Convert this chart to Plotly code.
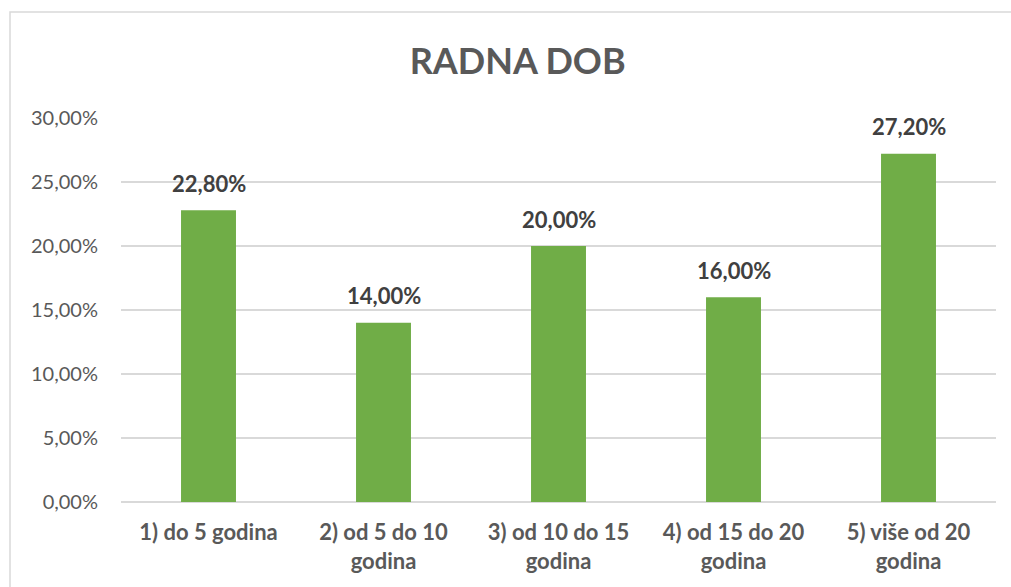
import plotly.graph_objects as go

categories = ["1) do 5 godina", "2) od 5 do 10<br>godina", "3) od 10 do 15<br>godina",
              "4) od 15 do 20<br>godina", "5) više od 20<br>godina"]
values = [0.228, 0.14, 0.20, 0.16, 0.272]
y_ticks = [0, 0.05, 0.10, 0.15, 0.20, 0.25, 0.30]

FONT = "Lato"

fig = go.Figure(go.Bar(
    x=categories, y=values,
    marker=dict(color="#70AD47", line=dict(width=0)),
    hoverinfo="skip",
))

annotations = [
    dict(x=c, y=v, xref="x", yref="y", text="<b>" + format(v * 100, ".2f").replace(".", ",") + "%</b>",
         showarrow=False, yanchor="middle", yshift=27,
         font=dict(family=FONT, size=22, color="#404040"))
    for c, v in zip(categories, values)
]

fig.update_layout(
    width=1011, height=587,
    separators=",.",
    paper_bgcolor="white", plot_bgcolor="white",
    margin=dict(l=121, r=15, t=118, b=85),
    bargap=0.686,
    showlegend=False,
    annotations=annotations,
    title=dict(text="<b>RADNA DOB</b>", x=0.512, xanchor="center", y=0.895, yanchor="middle",
               font=dict(family=FONT, size=36, color="#595959")),
    font=dict(family=FONT, color="#595959"),
    shapes=[dict(type="rect", xref="paper", yref="paper",
                 x0=-111/875, x1=1.2, y0=-0.5, y1=(502-12)/384,
                 line=dict(color="#d9d9d9", width=1.5), fillcolor="rgba(0,0,0,0)", layer="below")],
)
fig.update_xaxes(showgrid=False, showline=False, zeroline=False,
                 tickfont=dict(family=FONT, size=22, color="#595959", weight="bold"),
                 ticks="", ticklabelstandoff=15)
fig.update_yaxes(range=[0, 0.30], tickvals=y_ticks, tickformat=".2%",
                 showgrid=True, gridcolor="#d9d9d9", gridwidth=1.5,
                 zeroline=True, zerolinecolor="#d9d9d9", zerolinewidth=1.5,
                 showline=False, ticks="", ticklabelstandoff=22,
                 tickfont=dict(family=FONT, size=20, color="#595959"))

fig.write_html("out.html", config={"displayModeBar": False},
               post_script="document.body.style.margin='0px';")
